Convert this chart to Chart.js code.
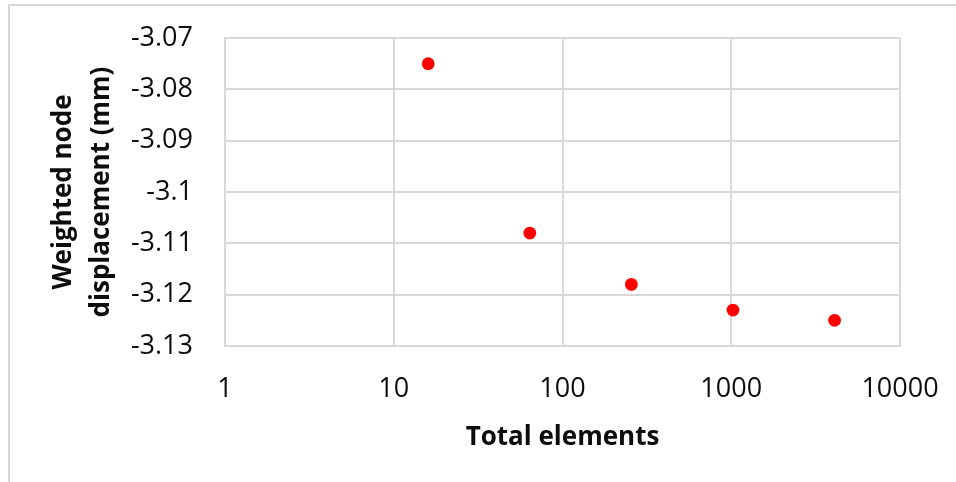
<!DOCTYPE html>
<html>
<head>
<meta charset="utf-8">
<script src="https://cdn.jsdelivr.net/npm/chart.js@4/dist/chart.umd.min.js"></script>
<style>
  html, body { margin: 0; padding: 0; background: #ffffff; }
  #wrap { width: 956px; height: 482px; }
</style>
</head>
<body>
<div id="wrap"><canvas id="chart" width="956" height="482"></canvas></div>
<script>
// Mesh refinement study: total element count vs weighted node displacement
const totalElements = [16, 64, 256, 1024, 4096];
const displacementMm = [-3.075, -3.108, -3.118, -3.123, -3.125];

const xTickValues = [1, 10, 100, 1000, 10000];
const yTickValues = [-3.07, -3.08, -3.09, -3.1, -3.11, -3.12, -3.13];

const xTitle = 'Total elements';
const yTitle = ['Weighted node', 'displacement (mm)'];

const FONT = '"Open Sans", "Liberation Sans", sans-serif';
const GRID = '#d9d9d9';
const TEXT = '#0d0d0d';

// white page with a light frame around the whole figure
const framePlugin = {
  id: 'frame',
  beforeDraw(chart) {
    const ctx = chart.ctx;
    ctx.save();
    ctx.fillStyle = '#ffffff';
    ctx.fillRect(0, 0, chart.width, chart.height);
    ctx.strokeStyle = GRID;
    ctx.lineWidth = 2;
    ctx.strokeRect(9, 5, chart.width + 20, chart.height + 20);
    ctx.restore();
  }
};

new Chart(document.getElementById('chart'), {
  type: 'scatter',
  data: {
    datasets: [{
      data: totalElements.map((x, i) => ({ x: x, y: displacementMm[i] })),
      backgroundColor: '#ff0000',
      borderWidth: 0,
      pointRadius: 6.4,
      pointHoverRadius: 6.4
    }]
  },
  options: {
    responsive: false,
    animation: false,
    layout: { padding: { left: 0, right: 56, top: 38, bottom: 0 } },
    plugins: {
      legend: { display: false },
      tooltip: { enabled: false }
    },
    scales: {
      x: {
        type: 'logarithmic',
        min: 1,
        max: 10000,
        afterBuildTicks(scale) {
          scale.ticks = xTickValues.map(v => ({ value: v }));
        },
        afterFit(scale) { scale.height = 136; },
        // invisible tick marks keep the label gap without widening the plot padding
        grid: { color: GRID, lineWidth: 2, drawTicks: true, tickLength: 27, tickColor: 'rgba(0,0,0,0)' },
        border: { color: GRID, width: 2 },
        ticks: {
          color: TEXT,
          font: { family: FONT, size: 27 },
          padding: 0,
          maxRotation: 0,
          autoSkip: false,
          callback: v => String(v)
        },
        title: {
          display: true,
          text: xTitle,
          color: TEXT,
          font: { family: FONT, size: 26, weight: 'bold', lineHeight: 1.2 },
          padding: { top: 0, bottom: 29 }
        }
      },
      y: {
        min: -3.13,
        max: -3.07,
        afterBuildTicks(scale) {
          scale.ticks = yTickValues.map(v => ({ value: v }));
        },
        afterFit(scale) { scale.width = 225; },
        grid: { color: GRID, lineWidth: 2, drawTicks: true, tickLength: 32, tickColor: 'rgba(0,0,0,0)' },
        border: { color: GRID, width: 2 },
        ticks: {
          color: TEXT,
          font: { family: FONT, size: 27 },
          padding: 0,
          callback: v => String(Number(v.toFixed(2)))
        },
        title: {
          display: true,
          text: yTitle,
          color: TEXT,
          font: { family: FONT, size: 26, weight: 'bold', lineHeight: 1.48 },
          padding: { top: 44, bottom: 0 }
        }
      }
    }
  },
  plugins: [framePlugin]
});
</script>
</body>
</html>
